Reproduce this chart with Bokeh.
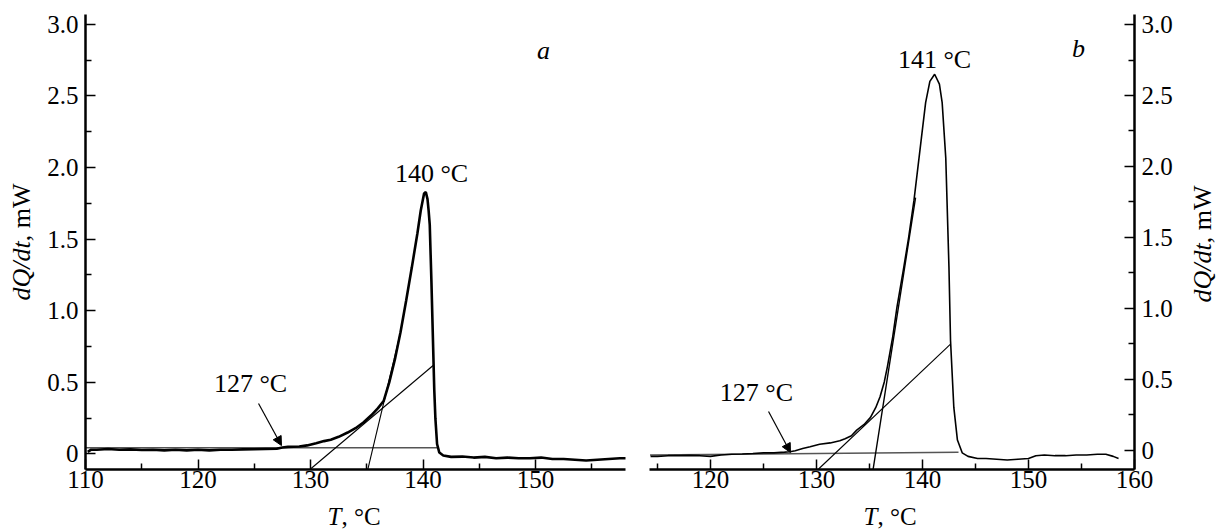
from math import pi
from bokeh.plotting import figure
from bokeh.layouts import row
from bokeh.models import Range1d, FixedTicker, Label, Arrow, NormalHead, CustomJSTickFormatter
from bokeh.embed import file_html
from bokeh.resources import INLINE

FONT = "Liberation Serif"

# ---------------- panel a ----------------
T_a = [110.2, 110.5, 111, 112, 113, 114, 115, 116, 117, 118, 119, 120, 121, 122, 123, 124, 125,
       126, 127, 127.5, 128, 129, 129.7, 130.5, 131.2, 131.8, 132.5, 133.3, 134, 134.7, 135.4,
       136, 136.5, 137, 137.5, 138, 138.5, 139, 139.5, 139.8, 140.0, 140.1, 140.25, 140.4,
       140.5, 140.6, 140.75, 140.9, 141.0, 141.1, 141.25, 141.45, 141.8, 142.5, 143.5, 144.5,
       145.5, 146.5, 147.5, 148.5, 149.5, 150.5, 151.5, 152.5, 153.5, 154.5, 155.5, 156.5,
       157.5, 158]
Q_a = [0.015, 0.03, 0.03, 0.035, 0.03, 0.032, 0.028, 0.03, 0.025, 0.03, 0.025, 0.03, 0.025, 0.03,
       0.03, 0.032, 0.033, 0.035, 0.037, 0.045, 0.05, 0.052, 0.06, 0.075, 0.09, 0.1, 0.12, 0.15,
       0.18, 0.22, 0.27, 0.32, 0.37, 0.5, 0.66, 0.85, 1.07, 1.3, 1.54, 1.7, 1.78, 1.82, 1.83,
       1.78, 1.7, 1.6, 1.2, 0.75, 0.45, 0.25, 0.07, 0.01, -0.01, -0.02, -0.018, -0.025, -0.02,
       -0.03, -0.025, -0.03, -0.03, -0.025, -0.035, -0.035, -0.04, -0.045, -0.04, -0.035,
       -0.03, -0.03]
base_a_T = [110, 141.26]
base_a_Q = [0.043, 0.043]
tan1_a_T = [130.0, 140.9]
tan1_a_Q = [-0.105, 0.618]
tan2_a_T = [135.1, 138.0]
tan2_a_Q = [-0.105, 0.85]

# ---------------- panel b ----------------
T_b = [114.35, 115, 116, 117, 118, 119, 120, 121, 122, 123, 124, 125, 126, 127, 127.5, 128,
       128.7, 129.4, 130.3, 131.3, 132.2, 132.7, 133.3, 133.8, 134.5, 135.1, 135.6, 136.0,
       136.4, 136.7, 137.2, 137.6, 138.2, 138.7, 139.2, 139.9, 140.3, 140.7, 141.15, 141.6,
       141.86, 142.2, 142.5, 142.65, 142.96, 143.3, 143.75, 144.3, 145.2, 146, 147, 148, 149,
       150, 150.7, 151.5, 152.5, 153.5, 154.5, 155.5, 156.5, 157.3, 158, 158.5]
Q_b = [-0.045, -0.045, -0.04, -0.04, -0.038, -0.04, -0.045, -0.035, -0.03, -0.028, -0.025,
       -0.02, -0.02, -0.015, -0.012, -0.005, 0.01, 0.023, 0.04, 0.05, 0.065, 0.08, 0.1, 0.14,
       0.18, 0.23, 0.3, 0.375, 0.48, 0.59, 0.8, 1.01, 1.27, 1.5, 1.76, 2.2, 2.45, 2.6, 2.65,
       2.58, 2.45, 2.06, 1.29, 0.77, 0.3, 0.07, -0.02, -0.045, -0.06, -0.06, -0.065, -0.07,
       -0.065, -0.06, -0.04, -0.035, -0.04, -0.04, -0.035, -0.035, -0.03, -0.03, -0.045, -0.06]
base_b_T = [114.3, 143.4]
base_b_Q = [-0.035, -0.015]
tan1_b_T = [130.2, 142.65]
tan1_b_Q = [-0.134, 0.746]
tan2_b_T = [135.35, 139.35]
tan2_b_Q = [-0.134, 1.78]

y_ticks = [0, 0.5, 1.0, 1.5, 2.0, 2.5, 3.0]
y_minor = [0.25, 0.75, 1.25, 1.75, 2.25, 2.75]
x_ticks_a = [110, 120, 130, 140, 150]
x_minor_a = [115, 125, 135, 145, 155]
x_ticks_b = [120, 130, 140, 150, 160]
x_minor_b = [115, 125, 135, 145, 155]

# axis extents (data units) of each panel
XA = (110, 158)
YA = (-0.105, 3.07)
XB = (114.25, 160)
YB = (-0.134, 3.07)

TICK_SIZE = "25px"
LAB_SIZE = "25px"

yfmt = CustomJSTickFormatter(code="return tick == 0 ? '0' : tick.toFixed(1);")


def style_axes(p):
    for ax in p.axis:
        ax.axis_line_width = 2.5
        ax.axis_line_color = "black"
        ax.major_tick_in = 10
        ax.major_tick_out = 0
        ax.minor_tick_in = 6
        ax.minor_tick_out = 0
        ax.major_tick_line_width = 1.5
        ax.minor_tick_line_width = 1.5
        ax.major_tick_line_color = "black"
        ax.minor_tick_line_color = "black"
        ax.major_label_text_font = FONT
        ax.major_label_text_font_size = TICK_SIZE
        ax.major_label_text_color = "black"
    p.xgrid.visible = False
    p.ygrid.visible = False
    p.outline_line_color = None


def lab(p, text, x, y, style="normal", angle=0, align="left", baseline="middle", size=LAB_SIZE):
    p.add_layout(Label(x=x, y=y, text=text, angle=angle,
                       text_font=FONT, text_font_size=size, text_font_style=style,
                       text_align=align, text_baseline=baseline, text_color="black"))


# ---------------- figure a ----------------
pa = figure(width=633, height=532, output_backend="svg", toolbar_location=None, title=None,
            x_range=Range1d(102.444, 158.711), y_range=Range1d(-0.5482, 3.1669),
            min_border=0)
pa.xaxis.ticker = FixedTicker(ticks=x_ticks_a, minor_ticks=x_minor_a)
pa.yaxis.ticker = FixedTicker(ticks=y_ticks, minor_ticks=y_minor)
pa.yaxis.formatter = yfmt
pa.xaxis.fixed_location = YA[0]
pa.yaxis.fixed_location = XA[0]
pa.xaxis.bounds = XA
pa.yaxis.bounds = YA
pa.xaxis.major_label_standoff = 2
pa.yaxis.major_label_standoff = 7
style_axes(pa)

pa.line(base_a_T, base_a_Q, line_color="#555555", line_width=1.5)
pa.line(tan1_a_T, tan1_a_Q, line_color="black", line_width=1.1)
pa.line(tan2_a_T, tan2_a_Q, line_color="black", line_width=1.1)
pa.line(T_a, Q_a, line_color="black", line_width=2.6)

lab(pa, "a", 150.71, 2.818, style="italic", align="center", size="26px")
lab(pa, "140 °C", 140.76, 1.959, align="center", size="26px")
lab(pa, "127 °C", 124.67, 0.492, align="center", size="26px")
pa.add_layout(Arrow(end=NormalHead(size=9, fill_color="black", line_color="black", line_width=1),
                    x_start=125.38, y_start=0.353, x_end=127.42, y_end=0.059,
                    line_color="black", line_width=1.2))
lab(pa, "dQ/dt", 104.31, 1.072, style="italic", angle=pi / 2, size="26px")
lab(pa, ", mW", 104.31, 1.485, angle=pi / 2, size="26px")
lab(pa, "T", 131.51, -0.436, style="italic")
lab(pa, ", °C", 132.75, -0.436)

# ---------------- figure b ----------------
pb = figure(width=585, height=532, output_backend="svg", toolbar_location=None, title=None,
            x_range=Range1d(112.74, 167.93), y_range=Range1d(-0.5818, 3.170),
            y_axis_location="right", min_border=0)
pb.xaxis.ticker = FixedTicker(ticks=x_ticks_b, minor_ticks=x_minor_b)
pb.yaxis.ticker = FixedTicker(ticks=y_ticks, minor_ticks=y_minor)
pb.yaxis.formatter = yfmt
pb.xaxis.fixed_location = YB[0]
pb.yaxis.fixed_location = XB[1]
pb.xaxis.bounds = XB
pb.yaxis.bounds = YB
pb.xaxis.major_label_standoff = 2
pb.yaxis.major_label_standoff = 7
style_axes(pb)

pb.line(base_b_T, base_b_Q, line_color="#555555", line_width=1.5)
pb.line(tan1_b_T, tan1_b_Q, line_color="black", line_width=1.1)
pb.line(tan2_b_T, tan2_b_Q, line_color="black", line_width=1.4)
pb.line(T_b, Q_b, line_color="black", line_width=1.6)

lab(pb, "b", 154.72, 2.831, style="italic", align="center", size="26px")
lab(pb, "141 °C", 141.14, 2.754, align="center", size="26px")
lab(pb, "127 °C", 124.34, 0.405, align="center", size="26px")
pb.add_layout(Arrow(end=NormalHead(size=9, fill_color="black", line_color="black", line_width=1),
                    x_start=125.48, y_start=0.272, x_end=127.55, y_end=-0.018,
                    line_color="black", line_width=1.2))
lab(pb, "dQ/dt", 166.40, 1.040, style="italic", angle=pi / 2, size="26px")
lab(pb, ", mW", 166.40, 1.458, angle=pi / 2, size="26px")
lab(pb, "T", 134.44, -0.469, style="italic")
lab(pb, ", °C", 135.75, -0.469)

layout = row(pa, pb, spacing=0)
open("out.html", "w").write(file_html(layout, INLINE))
